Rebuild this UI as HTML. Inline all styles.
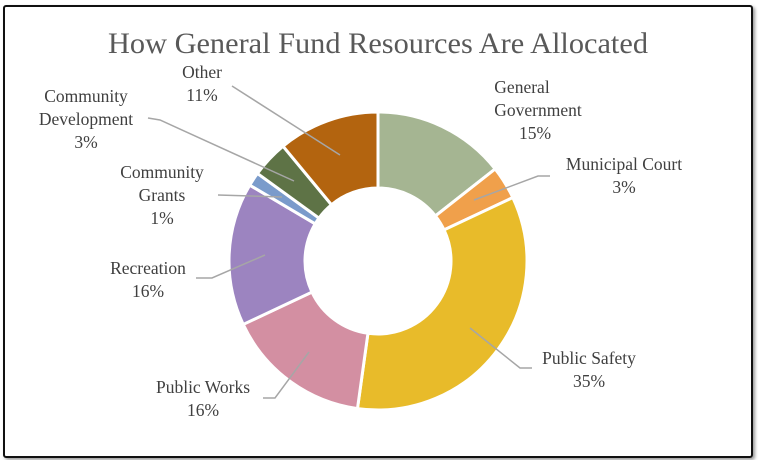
<!DOCTYPE html>
<html><head><meta charset="utf-8"><style>
html,body{margin:0;padding:0;background:#fff;}
body{width:759px;height:460px;overflow:hidden;position:relative;}
.frame{position:absolute;left:3px;top:5px;width:746px;height:449px;border:2px solid #111;border-radius:3px;box-shadow:2px 2px 3px #999;}
svg{position:absolute;left:0;top:0;}
text{font-family:"Liberation Serif",serif;fill:#404040;}
</style></head><body>
<div class="frame"></div>
<svg width="759" height="460" id="s">
<text x="378" y="53" text-anchor="middle" font-size="30" textLength="540" lengthAdjust="spacingAndGlyphs" style="fill:#595959">How General Fund Resources Are Allocated</text>
<g id="pie"></g>
<g stroke="#a6a6a6" stroke-width="1.5" fill="none">
<polyline points="232,86 340,155"/>
<polyline points="148,118 160,120 294,181"/>
<polyline points="218,195 282,197"/>
<polyline points="196,278 212,278 265,255"/>
<polyline points="263,398 275,398 309,352"/>
<polyline points="532,368 520,368 470,328"/>
<polyline points="550,176 538,176 474,200"/>
</g>
<g font-size="17.5">
<text x="202" y="78" text-anchor="middle">Other</text>
<text x="202" y="101" text-anchor="middle">11%</text>
<text x="86" y="102" text-anchor="middle">Community</text>
<text x="86" y="125" text-anchor="middle">Development</text>
<text x="86" y="148" text-anchor="middle">3%</text>
<text x="162" y="178" text-anchor="middle">Community</text>
<text x="162" y="201" text-anchor="middle">Grants</text>
<text x="162" y="224" text-anchor="middle">1%</text>
<text x="148" y="274" text-anchor="middle">Recreation</text>
<text x="148" y="297" text-anchor="middle">16%</text>
<text x="203" y="393" text-anchor="middle">Public Works</text>
<text x="203" y="416" text-anchor="middle">16%</text>
<text x="589" y="364" text-anchor="middle">Public Safety</text>
<text x="589" y="387" text-anchor="middle">35%</text>
<text x="624" y="170" text-anchor="middle">Municipal Court</text>
<text x="624" y="193" text-anchor="middle">3%</text>
<text x="522" y="93" text-anchor="middle">General</text>
<text x="538" y="116" text-anchor="middle">Government</text>
<text x="535" y="139" text-anchor="middle">15%</text>
</g>
</svg>
<script>
var cx=378,cy=261,R=149,r=73;
var segs=[[0,14.4,"#a5b592"],[14.4,18,"#f0a04b"],[18,52.2,"#e8bb2a"],[52.2,68,"#d38fa2"],[68,83.5,"#9c84c0"],[83.5,85,"#7a9bcb"],[85,89,"#5e7346"],[89,100,"#b3640f"]];
function pt(p,rad){var a=p/100*2*Math.PI;return [cx+rad*Math.sin(a),cy-rad*Math.cos(a)];}
var g=document.getElementById("pie"),h="";
segs.forEach(function(s){var a=pt(s[0],R),b=pt(s[1],R),c=pt(s[1],r),d=pt(s[0],r);var l=(s[1]-s[0])>50?1:0;
h+='<path d="M'+a+' A'+R+','+R+' 0 '+l+' 1 '+b+' L'+c+' A'+r+','+r+' 0 '+l+' 0 '+d+' Z" fill="'+s[2]+'" stroke="#fff" stroke-width="3"/>';});
g.innerHTML=h;
</script>
</body></html>
